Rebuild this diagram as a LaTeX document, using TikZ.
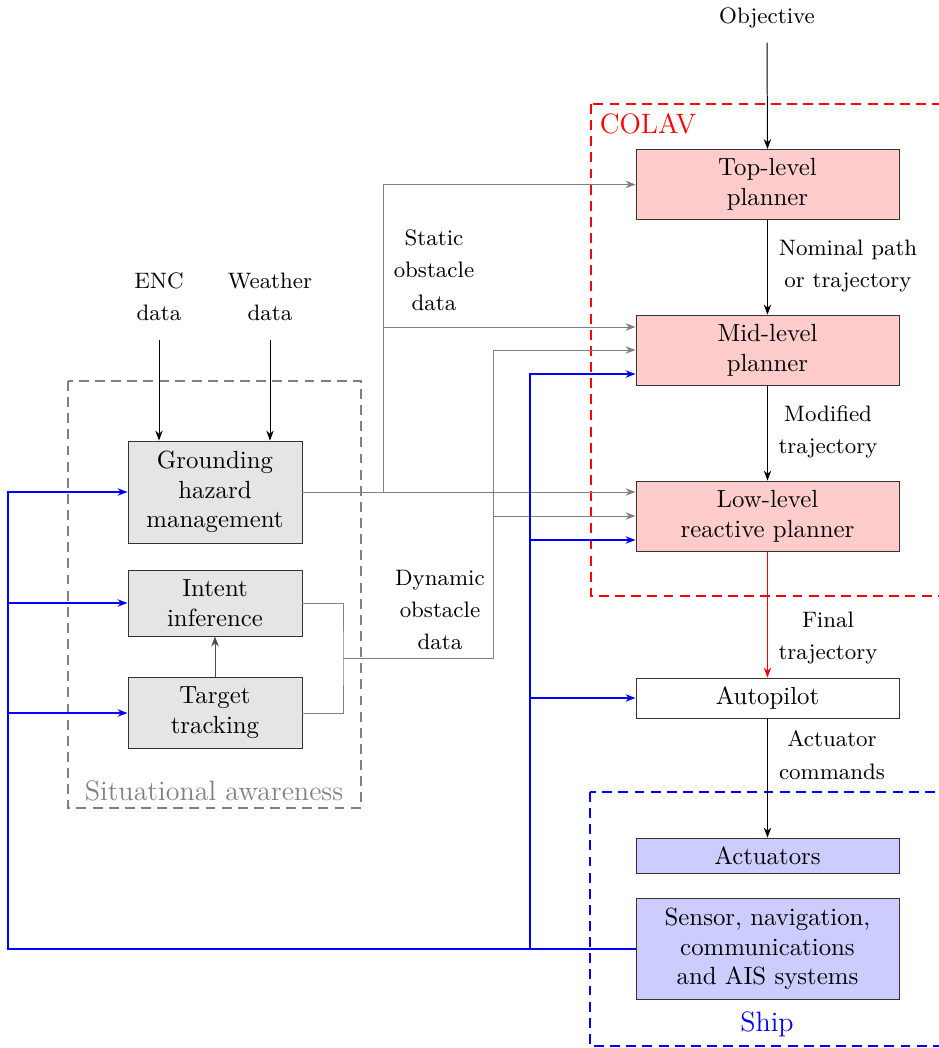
\documentclass[tikz,border=0pt]{standalone}
\usetikzlibrary{arrows.meta}
\begin{document}
\begin{tikzpicture}[x=0.403pt,y=-0.403pt,
  box/.style={draw=black!80, inner sep=0pt, align=center, minimum width={263*0.403pt}},
  sabox/.style={draw=black!80, fill=gray!20, inner sep=0pt, align=center, minimum width={174*0.403pt}},
  lbl/.style={font=\small, align=center, inner sep=2pt},
  big/.style={font=\fontsize{11.3}{13}\selectfont},
  arr/.style={-{Stealth[length=4pt,width=3pt]}},
  gline/.style={gray, arr},
  bline/.style={blue, line width=0.45pt},
  frame/.style={dashed, line width=0.8pt, dash pattern=on 4pt off 2.5pt}
]
\useasboundingbox (0,0) rectangle (939,1048);
\clip (0,0) rectangle (939,1048);

% right column
\node[box, fill=red!20, minimum height={70*0.403pt}] (top) at (767.5,184.5) {Top-level\\planner};
\node[box, fill=red!20, minimum height={70*0.403pt}] (mid) at (767.5,350) {Mid-level\\planner};
\node[box, fill=red!20, minimum height={70*0.403pt}] (low) at (767.5,516) {Low-level\\reactive planner};
\node[box, fill=white, minimum height={40*0.403pt}] (auto) at (767.5,698) {Autopilot};
\node[box, fill=blue!20, minimum height={35*0.403pt}] (act) at (767.5,855.5) {Actuators};
\node[box, fill=blue!20, minimum height={101*0.403pt}] (sens) at (767.5,949) {Sensor, navigation,\\communications\\and AIS systems};

% situational awareness
\node[sabox, minimum height={102*0.403pt}] (ground) at (215,492) {Grounding\\hazard\\management};
\node[sabox, minimum height={66*0.403pt}] (intent) at (215,603) {Intent\\inference};
\node[sabox, minimum height={71*0.403pt}] (target) at (215,713) {Target\\tracking};

% frames
\draw[frame, gray] (68,381) rectangle (361,808);
\node[gray, big] (salbl) at (214,791) {Situational awareness};
\draw[frame, red] (591,104) rectangle (960,596);
\node[red, big] (colavlbl) at (648,124) {COLAV};
\draw[frame, blue] (590,792) rectangle (960,1046);
\node[blue, big] (shiplbl) at (767,1024) {Ship};

% labels
\node[lbl] (obj) at (767,18) {Objective};
\node[lbl] (enc) at (159,297) {ENC\\[2pt]data};
\node[lbl] (wea) at (270,297) {Weather\\[2pt]data};
\node[lbl] (stat) at (434,270) {Static\\[2pt]obstacle\\[2pt]data};
\node[lbl] (dyn) at (440,610) {Dynamic\\[2pt]obstacle\\[2pt]data};
\node[lbl] (nom) at (848,266) {Nominal path\\[2pt]or trajectory};
\node[lbl] (modt) at (828,432) {Modified\\[2pt]trajectory};
\node[lbl] (fint) at (828,638) {Final\\[2pt]trajectory};
\node[lbl] (actc) at (832,755) {Actuator\\[2pt]commands};

% black arrows
\draw[arr] (obj.south) ++(0,9) coordinate (objs) (objs) -- (top.north);
\coordinate (encs) at (159,340);
\coordinate (weas) at (270,340);
\draw[arr] (encs) -- (encs |- ground.north);
\draw[arr] (weas) -- (weas |- ground.north);
\draw[arr] (top) -- (mid);
\draw[arr] (mid) -- (low);
\draw[arr, red] (low) -- (auto);
\draw[arr] (auto) -- (act);
\draw[arr, black!70] (target) -- (intent);

% static obstacle data (gray)
\coordinate (sA) at (383,492);
\coordinate (sB) at (383,327);
\draw[gline] (ground.east) -- (ground.east -| low.west);
\draw[gline] (sA) |- (top.west);
\draw[gline] (sB) -- (sB -| mid.west);

% dynamic obstacle data (gray)
\coordinate (dA) at (343,658);
\coordinate (dB) at (493,658);
\coordinate (dC) at (493,516);
\draw[gray] (intent.east) -| (dA) |- (target.east);
\draw[gline] (dA) -- (dB) |- (mid.west);
\draw[gline] (dC) -- (low.west);

% blue feedback
\coordinate (bL) at (8,949);
\coordinate (bR) at (530,949);
\coordinate (bM) at (530,374);
\coordinate (bLo) at (530,540);
\coordinate (bI) at (8,603);
\coordinate (bT) at (8,713);
\draw[bline, arr] (sens.west) -- (bL) |- (ground.west);
\draw[bline, arr] (bI) -- (intent.west);
\draw[bline, arr] (bT) -- (target.west);
\draw[bline, arr] (bR) -- (bM) -- (bM -| mid.west);
\draw[bline, arr] (bLo) -- (bLo -| low.west);
\draw[bline, arr] (bR |- auto.west) -- (auto.west);
\end{tikzpicture}
\end{document}
